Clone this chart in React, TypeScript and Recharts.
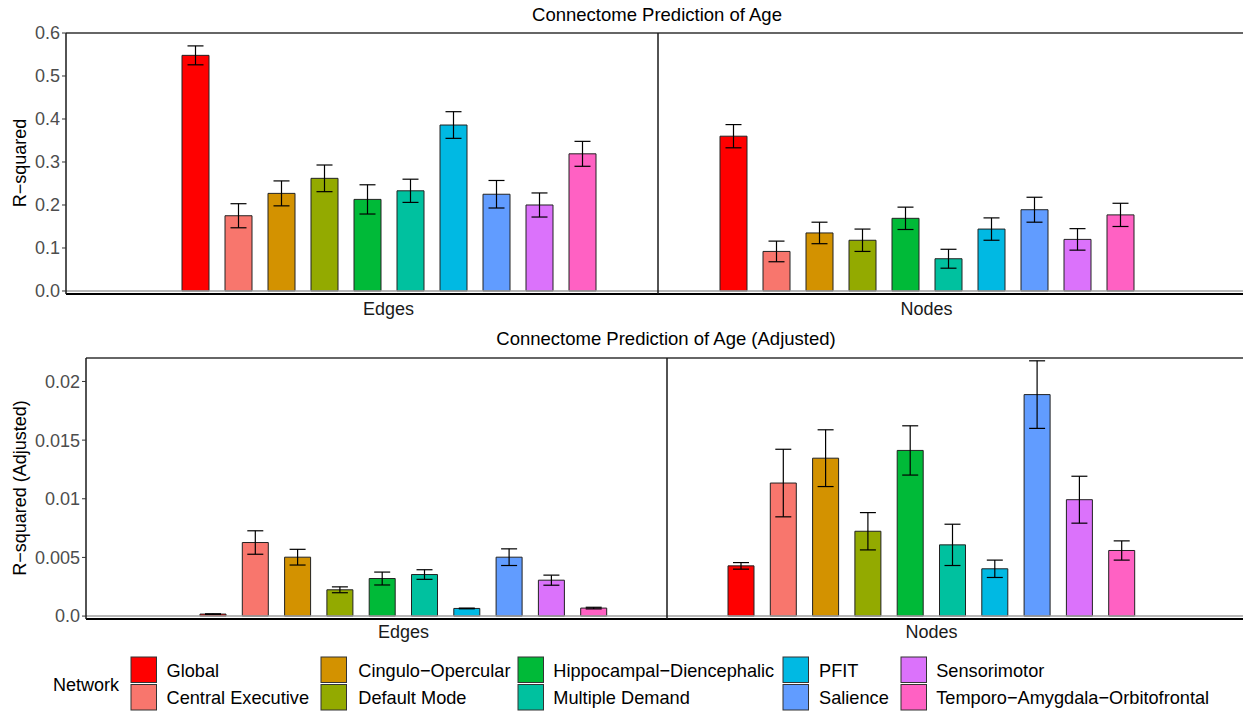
import React from 'react';
import { BarChart, Bar, XAxis, YAxis, ErrorBar, ReferenceLine } from 'recharts';

// Networks and their fill colours
const networks = [
  'Global',
  'Central Executive',
  'Cingulo\u2212Opercular',
  'Default Mode',
  'Hippocampal\u2212Diencephalic',
  'Multiple Demand',
  'PFIT',
  'Salience',
  'Sensorimotor',
  'Temporo\u2212Amygdala\u2212Orbitofrontal',
];
const colors = ['#FF0000', '#F8766D', '#D39200', '#93AA00', '#00BA38', '#00C19F', '#00B9E3', '#619CFF', '#DB72FB', '#FF61C3'];

// R-squared (mean and error half-width) per network
const edgesR2 = [0.548, 0.175, 0.227, 0.262, 0.213, 0.233, 0.386, 0.225, 0.2, 0.319];
const edgesR2Err = [0.022, 0.028, 0.029, 0.031, 0.034, 0.027, 0.031, 0.032, 0.028, 0.029];
const nodesR2 = [0.36, 0.092, 0.135, 0.118, 0.169, 0.075, 0.144, 0.189, 0.12, 0.177];
const nodesR2Err = [0.027, 0.024, 0.025, 0.026, 0.026, 0.022, 0.026, 0.029, 0.025, 0.027];

// Adjusted R-squared (mean and error half-width) per network
const edgesAdj = [0.00017, 0.00627, 0.00502, 0.00224, 0.0032, 0.00354, 0.00065, 0.00502, 0.00306, 0.00068];
const edgesAdjErr = [0.00002, 0.001, 0.00067, 0.00025, 0.00055, 0.00041, 0.00003, 0.00071, 0.00043, 0.00007];
const nodesAdj = [0.00428, 0.01134, 0.01346, 0.00723, 0.01412, 0.00607, 0.00403, 0.01888, 0.00992, 0.00559];
const nodesAdjErr = [0.00028, 0.00288, 0.00242, 0.00159, 0.0021, 0.00176, 0.00074, 0.00288, 0.002, 0.00082];

const r2Ticks = [0, 0.1, 0.2, 0.3, 0.4, 0.5, 0.6];
const adjTicks = [0, 0.005, 0.01, 0.015, 0.02];

const FONT = '"Liberation Sans", Arial, sans-serif';

function makeRows(facet: string, values: number[], errs: number[]) {
  const row: Record<string, any> = { facet };
  values.forEach((v, i) => {
    row['v' + i] = v;
    row['e' + i] = errs[i];
  });
  return [row];
}

type FacetProps = {
  left: number;
  top: number;
  width: number;
  height: number;
  marginTop: number;
  yWidth: number;
  domain: [number, number];
  ticks: number[];
  fmt: (v: number) => string;
  rows: any[];
  padding: { left: number; right: number };
  barSize: number;
  barGap: number;
  showY: boolean;
  tickMargin: number;
};

function Facet(p: FacetProps) {
  return (
    <div style={{ position: 'absolute', left: p.left, top: p.top }}>
      <BarChart
        width={p.width}
        height={p.height}
        data={p.rows}
        margin={{ top: p.marginTop, right: 0, bottom: 0, left: 0 }}
        barSize={p.barSize}
        barGap={p.barGap}
      >
        <XAxis
          dataKey="facet"
          type="category"
          padding={p.padding}
          tickLine={false}
          axisLine={{ stroke: '#000', strokeWidth: 2.2 }}
          tick={{ fill: '#1a1a1a', fontSize: 18 }}
          tickMargin={p.tickMargin}
          height={30}
        />
        <YAxis
          type="number"
          domain={p.domain}
          ticks={p.ticks}
          interval={0}
          allowDataOverflow
          width={p.yWidth}
          tickFormatter={p.fmt}
          tick={p.showY ? { fill: '#4d4d4d', fontSize: 18 } : false}
          tickLine={p.showY ? { stroke: '#333' } : false}
          tickSize={p.showY ? 4 : 0}
          tickMargin={p.showY ? 2 : 0}
          axisLine={{ stroke: '#1a1a1a', strokeWidth: 1.5 }}
        />
        <ReferenceLine y={p.domain[1]} stroke="#333" strokeWidth={1.5} />
        <ReferenceLine y={0} stroke="#a0a0a0" strokeWidth={1.5} />
        {networks.map((n, i) => (
          <Bar
            key={n}
            dataKey={'v' + i}
            name={n}
            fill={colors[i]}
            stroke="#222"
            strokeWidth={1}
            isAnimationActive={false}
          >
            <ErrorBar
              dataKey={'e' + i}
              width={8}
              stroke="#000"
              strokeWidth={1.2}
              direction="y"
              isAnimationActive={false}
            />
          </Bar>
        ))}
      </BarChart>
    </div>
  );
}

const fmtR2 = (v: number) => v.toFixed(1);
const fmtAdj = (v: number) => (v === 0 ? '0.0' : String(v));

// Legend layout: two rows, filled column by column
const legendKeyX = [131, 321, 518, 783, 901];
const legendTextX = [166.5, 358.3, 553.3, 819, 936.2];
const legendRowTop = [657, 684.5];

export default function App() {
  return (
    <div
      style={{
        position: 'fixed',
        left: 0,
        top: 0,
        width: 1243,
        height: 712,
        overflow: 'hidden',
        background: '#fff',
        fontFamily: FONT,
      }}
    >
      {/* Top panel: R-squared */}
      <Facet
        left={0}
        top={0}
        width={658}
        height={324}
        marginTop={33}
        yWidth={66}
        domain={[-0.007, 0.6]}
        ticks={r2Ticks}
        fmt={fmtR2}
        rows={makeRows('Edges', edgesR2, edgesR2Err)}
        padding={{ left: 53, right: 0 }}
        barSize={27}
        barGap={16}
        showY
        tickMargin={2}
      />
      <Facet
        left={654}
        top={0}
        width={596}
        height={324}
        marginTop={33}
        yWidth={4}
        domain={[-0.007, 0.6]}
        ticks={r2Ticks}
        fmt={fmtR2}
        rows={makeRows('Nodes', nodesR2, nodesR2Err)}
        padding={{ left: 0, right: 55 }}
        barSize={27}
        barGap={16}
        showY={false}
        tickMargin={2}
      />

      {/* Bottom panel: adjusted R-squared */}
      <Facet
        left={0}
        top={330}
        width={667}
        height={319}
        marginTop={28}
        yWidth={86}
        domain={[-0.00025, 0.022]}
        ticks={adjTicks}
        fmt={fmtAdj}
        rows={makeRows('Edges', edgesAdj, edgesAdjErr)}
        padding={{ left: 54, right: 0 }}
        barSize={26}
        barGap={16.3}
        showY
        tickMargin={0}
      />
      <Facet
        left={663}
        top={330}
        width={586}
        height={319}
        marginTop={28}
        yWidth={4}
        domain={[-0.00025, 0.022]}
        ticks={adjTicks}
        fmt={fmtAdj}
        rows={makeRows('Nodes', nodesAdj, nodesAdjErr)}
        padding={{ left: 0, right: 53 }}
        barSize={26}
        barGap={16.3}
        showY={false}
        tickMargin={0}
      />

      {/* Titles, axis titles and legend */}
      <svg
        width={1243}
        height={712}
        style={{ position: 'absolute', left: 0, top: 0, pointerEvents: 'none', fontFamily: FONT }}
      >
        <text x={657} y={21} textAnchor="middle" fontSize={18.5} fill="#000">
          Connectome Prediction of Age
        </text>
        <text x={666} y={345} textAnchor="middle" fontSize={18.5} fill="#000">
          Connectome Prediction of Age (Adjusted)
        </text>
        <text x={25.5} y={163} textAnchor="middle" fontSize={18} fill="#000" transform="rotate(-90 25.5 163)">
          R{'\u2212'}squared
        </text>
        <text x={26} y={488} textAnchor="middle" fontSize={18} fill="#000" transform="rotate(-90 26 488)">
          R{'\u2212'}squared (Adjusted)
        </text>

        <text x={53} y={690.5} fontSize={18} fill="#000">
          Network
        </text>
        {networks.map((n, i) => {
          const col = Math.floor(i / 2);
          const row = i % 2;
          return (
            <g key={n}>
              <rect
                x={legendKeyX[col]}
                y={legendRowTop[row]}
                width={25.5}
                height={25.5}
                fill={colors[i]}
                stroke="#333"
                strokeWidth={1}
              />
              <text x={legendTextX[col]} y={legendRowTop[row] + 19.5} fontSize={18.2} fill="#000">
                {n}
              </text>
            </g>
          );
        })}
      </svg>
    </div>
  );
}
